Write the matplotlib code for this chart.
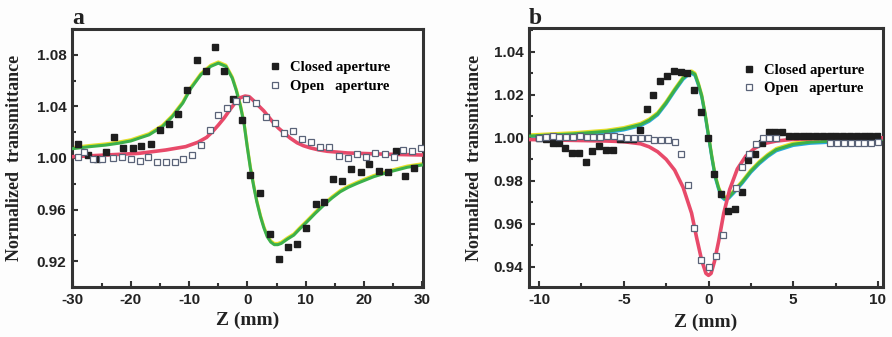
import matplotlib
matplotlib.use("Agg")
import matplotlib.pyplot as plt
from matplotlib.ticker import MultipleLocator
from matplotlib.transforms import offset_copy

plt.rcParams["axes.unicode_minus"] = False

# ---- panel a data ----
a_closed_z = [-29.0, -27.3, -25.8, -24.3, -22.9, -21.3, -19.7, -18.2, -16.6, -15.0,
              -13.4, -11.9, -10.3, -8.7, -7.1, -5.6, -4.1, -2.5, -0.9, 0.5,
              2.2, 3.8, 5.4, 6.9, 8.5, 10.1, 11.7, 13.1, 14.7, 16.2,
              17.8, 19.4, 20.9, 22.5, 24.1, 25.5, 27.1, 28.6]
a_closed_t = [1.0106, 1.0020, 0.9995, 1.0050, 1.0163, 1.0077, 1.0077, 1.0093, 1.0110, 1.0214,
              1.0266, 1.0340, 1.0529, 1.0761, 1.0674, 1.0859, 1.0674, 1.0457, 1.0295, 0.9868,
              0.9726, 0.9410, 0.9220, 0.9311, 0.9337, 0.9454, 0.9643, 0.9660, 0.9834, 0.9824,
              0.9917, 0.9894, 0.9953, 0.9902, 0.9894, 1.0057, 0.9863, 0.9920]

a_open_z = [-29.0, -28.0, -26.5, -25.0, -23.0, -21.5, -20.0, -18.5, -17.0, -15.5,
            -14.0, -12.5, -11.0, -9.5, -8.0, -6.5, -5.0, -3.5, -2.0, -0.3,
            1.4, 3.1, 4.8, 6.2, 7.8, 9.4, 10.9, 12.5, 13.9, 15.7,
            17.2, 18.8, 20.4, 21.9, 23.5, 25.1, 26.7, 28.2, 29.7]
a_open_t = [1.0010, 1.0045, 0.9995, 0.9990, 1.0000, 1.0010, 0.9990, 0.9980, 1.0010, 0.9970,
            0.9970, 0.9970, 0.9990, 1.0020, 1.0100, 1.0220, 1.0330, 1.0390, 1.0440, 1.0456,
            1.0430, 1.0316, 1.0274, 1.0192, 1.0212, 1.0145, 1.0127, 1.0088, 1.0088, 1.0016,
            0.9997, 1.0031, 1.0010, 1.0041, 1.0031, 1.0005, 1.0062, 1.0057, 1.0075]

a_cfit_z = [-30.0, -27.0, -24.3, -22.0, -20.0, -18.5, -16.9, -14.6, -12.9, -11.1,
            -9.7, -8.0, -6.3, -5.0, -3.7, -2.6, -1.9, -1.2, -0.57, -0.05,
            0.5, 1.08, 1.6, 2.23, 2.8, 3.38, 4.0, 4.6, 5.2, 5.8,
            6.8, 7.94, 9.0, 10.2, 11.6, 13.1, 14.5, 15.9, 17.3, 18.8,
            21.65, 24.5, 27.4, 30.0]
a_cfit_t = [1.0072, 1.0088, 1.0100, 1.0115, 1.0132, 1.0155, 1.0179, 1.0243, 1.0320, 1.0425,
            1.0540, 1.0645, 1.0710, 1.0735, 1.0710, 1.0618, 1.0520, 1.0400, 1.0260, 1.0088,
            0.9920, 0.9777, 0.9660, 0.9545, 0.9460, 0.9390, 0.9348, 0.9328, 0.9328, 0.9338,
            0.9370, 0.9402, 0.9452, 0.9505, 0.9570, 0.9635, 0.9690, 0.9738, 0.9773, 0.9803,
            0.9855, 0.9894, 0.9928, 0.9946]

a_ofit_z = [-30.0, -24.3, -18.6, -14.0, -10.6, -8.5, -7.0, -6.0, -5.0, -4.0,
            -3.0, -2.0, -1.2, -0.4, 0.3, 1.08, 1.9, 2.8, 3.6, 4.5,
            5.3, 6.2, 7.3, 8.5, 9.6, 10.8, 12.2, 13.7, 17.1, 21.7,
            26.0, 30.0]
a_ofit_t = [1.0010, 1.0023, 1.0036, 1.0062, 1.0088, 1.0122, 1.0160, 1.0204, 1.0255, 1.0310,
            1.0375, 1.0435, 1.0468, 1.0480, 1.0475, 1.0443, 1.0405, 1.0365, 1.0320, 1.0270,
            1.0232, 1.0197, 1.0155, 1.0118, 1.0095, 1.0078, 1.0063, 1.0052, 1.0039, 1.0032,
            1.0027, 1.0023]

# ---- panel b data ----
b_closed_z = [-10.0, -9.6, -9.2, -8.8, -8.45, -8.05, -7.65, -7.25, -6.85, -6.45,
              -6.05, -5.65, -5.25, -4.85, -4.45, -4.05, -3.65, -3.25, -2.85, -2.45,
              -2.05, -1.65, -1.25, -0.85, -0.45, -0.05, 0.35, 0.75, 1.15, 1.55,
              1.95, 2.35, 2.75, 3.15, 3.55, 3.95, 4.35, 4.75, 5.15, 5.55,
              5.95, 6.35, 6.75, 7.15, 7.55, 7.95, 8.35, 8.75, 9.15, 9.55, 9.95]
b_closed_t = [1.0000, 0.9995, 0.9974, 0.9974, 0.9953, 0.9930, 0.9930, 0.9887, 0.9938, 0.9964,
              0.9943, 0.9943, 0.9993, 0.9993, 0.9993, 1.0036, 1.0132, 1.0197, 1.0264, 1.0287,
              1.0310, 1.0306, 1.0302, 1.0222, 1.0120, 1.0000, 0.9830, 0.9740, 0.9662, 0.9668,
              0.9746, 0.9896, 0.9927, 0.9974, 1.0027, 1.0027, 1.0027, 1.0008, 1.0008, 1.0008,
              1.0008, 1.0008, 1.0008, 1.0008, 1.0008, 1.0008, 1.0008, 1.0008, 1.0008, 1.0008, 1.0008]

b_open_z = [-10.0, -9.6, -9.2, -8.8, -8.4, -8.0, -7.6, -7.2, -6.8, -6.4,
            -6.0, -5.6, -5.2, -4.8, -4.4, -4.0, -3.6, -3.2, -2.8, -2.4,
            -2.0, -1.6, -1.2, -0.85, -0.45, 0.0, 0.45, 0.85, 1.6, 2.0,
            2.4, 2.8, 3.2, 3.6, 4.0, 7.2, 7.6, 8.0, 8.4, 8.8,
            9.2, 9.6, 10.0]
b_open_t = [1.0000, 1.0005, 1.0008, 1.0005, 1.0003, 1.0005, 1.0008, 1.0005, 1.0003, 1.0005,
            1.0010, 1.0008, 1.0003, 1.0000, 1.0000, 1.0000, 1.0000, 0.9989, 0.9989, 0.9989,
            0.9980, 0.9927, 0.9783, 0.9579, 0.9434, 0.9399, 0.9450, 0.9550, 0.9767, 0.9865,
            0.9926, 0.9972, 1.0000, 1.0000, 1.0000, 0.9976, 0.9976, 0.9976, 0.9976, 0.9976,
            0.9976, 0.9976, 0.9980]

b_cfit_z = [-10.6, -8.0, -6.0, -5.0, -4.0, -3.5, -3.0, -2.5, -2.0, -1.5,
            -1.2, -1.0, -0.8, -0.6, -0.4, -0.2, 0.0, 0.2, 0.4, 0.6,
            0.8, 0.95, 1.2, 1.5, 2.0, 2.5, 3.0, 3.5, 4.0, 5.0,
            6.0, 8.0, 10.3]
b_cfit_t = [1.0008, 1.0018, 1.0030, 1.0042, 1.0062, 1.0082, 1.0112, 1.0163, 1.0222, 1.0277,
            1.0298, 1.0305, 1.0295, 1.0250, 1.0195, 1.0110, 1.0010, 0.9910, 0.9820, 0.9765,
            0.9728, 0.9718, 0.9725, 0.9750, 0.9795, 0.9845, 0.9885, 0.9918, 0.9945, 0.9970,
            0.9980, 0.9988, 0.9993]

b_ofit_z = [-10.6, -8.0, -6.0, -5.0, -4.0, -3.5, -3.0, -2.5, -2.0, -1.5,
            -1.0, -0.7, -0.4, -0.15, 0.0, 0.15, 0.35, 0.6, 0.9, 1.25,
            1.7, 2.2, 2.7, 3.2, 4.0, 5.0, 7.0, 10.3]
b_ofit_t = [0.9992, 0.9988, 0.9985, 0.9982, 0.9972, 0.9958, 0.9935, 0.9900, 0.9850, 0.9770,
            0.9650, 0.9535, 0.9430, 0.9370, 0.9361, 0.9370, 0.9425, 0.9520, 0.9650, 0.9760,
            0.9855, 0.9915, 0.9950, 0.9972, 0.9985, 0.9993, 0.9998, 1.0000]

SERIF = "Liberation Serif"
SANS = "Liberation Sans"
GREEN = "#3cb04a"
YELLOW = "#e6df2a"
CYAN = "#2aa8dc"
RED = "#e84a6a"
FRAME = "#333333"

fig = plt.figure(figsize=(8.92, 3.37), dpi=100)
fig.patch.set_facecolor("#fdfdfd")

ax_a = fig.add_axes([0.0807, 0.1484, 0.3935, 0.7656])
ax_b = fig.add_axes([0.5930, 0.1484, 0.3969, 0.7685])


def style_axis(ax):
    ax.set_facecolor("#fdfdfd")
    for side in ax.spines.values():
        side.set_linewidth(2.2)
        side.set_color(FRAME)
    ax.tick_params(which="both", direction="in", top=False, right=False,
                   color=FRAME, width=1.5)
    ax.tick_params(which="major", length=4.5, pad=4)
    ax.tick_params(which="minor", length=3)
    for lab in ax.get_xticklabels() + ax.get_yticklabels():
        lab.set_fontfamily(SANS)
        lab.set_fontweight("bold")
        lab.set_fontsize(11)
        lab.set_color("#222222")
    ax.set_xlabel("Z (mm)", fontfamily=SERIF, fontweight="bold", fontsize=14, color="#222222")
    ax.set_ylabel("Normalized  transmittance", fontfamily=SERIF, fontweight="bold",
                  fontsize=13, color="#222222")


def draw_panel(ax, closed_z, closed_t, open_z, open_t, cfit_z, cfit_t, ofit_z, ofit_t, cyan):
    up = offset_copy(ax.transData, fig=fig, x=0, y=0.9, units="points")
    down = offset_copy(ax.transData, fig=fig, x=0, y=-0.9, units="points")
    ax.plot(cfit_z, cfit_t, color=YELLOW, lw=2.2, transform=up, zorder=2)
    if cyan:
        ax.plot(cfit_z, cfit_t, color=CYAN, lw=2.2, transform=down, zorder=2)
    ax.plot(cfit_z, cfit_t, color=GREEN, lw=2.2, zorder=3)
    ax.plot(ofit_z, ofit_t, color=RED, lw=2.6, zorder=3)
    h1, = ax.plot(closed_z, closed_t, ls="none", marker="s", ms=4.3,
                  mfc="#1e1e1e", mec="#1e1e1e", zorder=4, label="Closed aperture")
    h2, = ax.plot(open_z, open_t, ls="none", marker="s", ms=4.0,
                  mfc="white", mec="#5a6378", mew=0.9, zorder=4, label="Open   aperture")
    return [h1, h2]


ha = draw_panel(ax_a, a_closed_z, a_closed_t, a_open_z, a_open_t,
                a_cfit_z, a_cfit_t, a_ofit_z, a_ofit_t, False)
hb = draw_panel(ax_b, b_closed_z, b_closed_t, b_open_z, b_open_t,
                b_cfit_z, b_cfit_t, b_ofit_z, b_ofit_t, True)

ax_a.set_xlim(-30.1, 30.1)
ax_a.set_ylim(0.90, 1.10)
ax_a.xaxis.set_major_locator(MultipleLocator(10))
ax_a.xaxis.set_minor_locator(MultipleLocator(5))
ax_a.set_yticks([0.92, 0.96, 1.00, 1.04, 1.08])
ax_a.set_yticklabels(["0.92", "0.96", "1.00", "1.04", "1.08"])
ax_a.yaxis.set_minor_locator(MultipleLocator(0.02))

ax_b.set_xlim(-10.6, 10.3)
ax_b.set_ylim(0.9307, 1.051)
ax_b.xaxis.set_major_locator(MultipleLocator(5))
ax_b.xaxis.set_minor_locator(MultipleLocator(2.5))
ax_b.set_yticks([0.94, 0.96, 0.98, 1.00, 1.02, 1.04])
ax_b.set_yticklabels(["0.94", "0.96", "0.98", "1.00", "1.02", "1.04"])
ax_b.yaxis.set_minor_locator(MultipleLocator(0.01))

for ax in (ax_a, ax_b):
    style_axis(ax)

ax_a.yaxis.set_label_coords(-0.14, 0.5)
ax_a.xaxis.set_label_coords(0.5, -0.097)
ax_b.yaxis.set_label_coords(-0.13, 0.5)
ax_b.xaxis.set_label_coords(0.5, -0.104)

leg_font = {"family": SERIF, "weight": "bold", "size": 10.5}
ax_a.legend(ha, [h.get_label() for h in ha], loc="upper left",
            bbox_to_anchor=(0.563, 0.875), frameon=False, prop=leg_font,
            handlelength=0.8, handletextpad=0.6, labelspacing=0.35,
            borderpad=0, borderaxespad=0)
ax_b.legend(hb, [h.get_label() for h in hb], loc="upper left",
            bbox_to_anchor=(0.606, 0.862), frameon=False, prop=leg_font,
            handlelength=0.8, handletextpad=0.6, labelspacing=0.35,
            borderpad=0, borderaxespad=0)

fig.text(72 / 892, 1 - 24 / 337, "a", fontfamily=SERIF, fontweight="bold",
         fontsize=17, color="#222222", va="baseline", ha="left")
fig.text(529 / 892, 1 - 24 / 337, "b", fontfamily=SERIF, fontweight="bold",
         fontsize=17, color="#222222", va="baseline", ha="left")

fig.savefig("out.png", dpi=100, facecolor=fig.get_facecolor())
